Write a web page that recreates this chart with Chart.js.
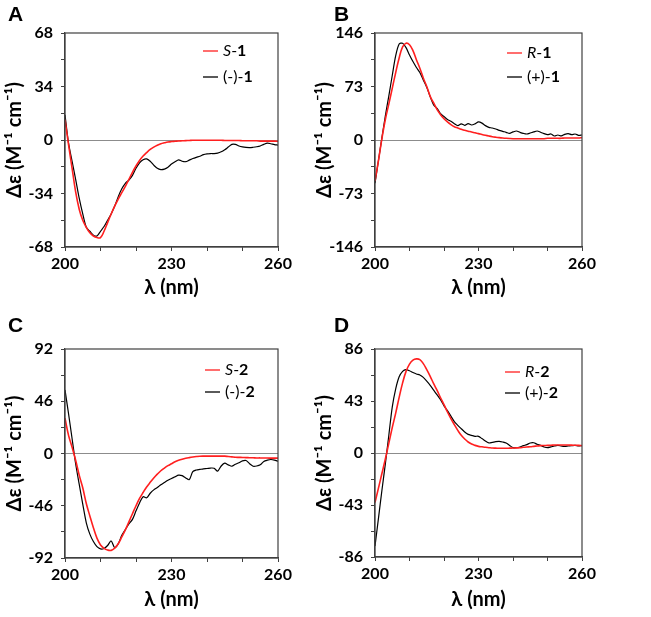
<!DOCTYPE html>
<html>
<head>
<meta charset="utf-8">
<script src="https://cdn.jsdelivr.net/npm/chart.js@4"></script>
<style>
  body { margin: 0; background: #fff; width: 651px; height: 617px; position: relative; overflow: hidden; }
  .panel { position: absolute; width: 330px; height: 308px; }
  .tag { position: absolute; font: bold 21px "Liberation Sans", Arial, sans-serif; line-height: 1; color: #000; }
</style>
</head>
<body>
<div class="panel" style="left:0;top:0"><canvas id="chart-a" width="330" height="308"></canvas></div>
<div class="panel" style="left:310px;top:0"><canvas id="chart-b" width="330" height="308"></canvas></div>
<div class="panel" style="left:0;top:312px"><canvas id="chart-c" width="330" height="308"></canvas></div>
<div class="panel" style="left:310px;top:312px"><canvas id="chart-d" width="330" height="308"></canvas></div>
<div class="tag" style="left:8px;top:3px">A</div>
<div class="tag" style="left:334px;top:3px">B</div>
<div class="tag" style="left:8px;top:314px">C</div>
<div class="tag" style="left:334px;top:314px">D</div>
<script>
// wavelength, nm
const wavelengths = [200, 201, 202, 203, 204, 205, 206, 207, 208, 209,
  210, 211, 212, 213, 214, 215, 216, 217, 218, 219,
  220, 221, 222, 223, 224, 225, 226, 227, 228, 229,
  230, 231, 232, 233, 234, 235, 236, 237, 238, 239,
  240, 241, 242, 243, 244, 245, 246, 247, 248, 249,
  250, 251, 252, 253, 254, 255, 256, 257, 258, 259, 260];
const xTickLabels = [200, 230, 260];

// panel A
const calcS1 = [13, -3, -18, -33, -44, -51, -55.5, -59, -61, -62,
  -62, -58, -52.5, -47, -42, -37.5, -33.5, -29.5, -25, -20.5,
  -16.5, -13, -10.2, -8, -6, -4.5, -3.3, -2.4, -1.8, -1.3,
  -1, -0.8, -0.6, -0.5, -0.4, -0.3, -0.2, -0.2, -0.2, -0.2,
  -0.2, -0.2, -0.2, -0.2, -0.2, -0.3, -0.3, -0.3, -0.3, -0.3,
  -0.5, -0.5, -0.5, -0.5, -0.5, -0.7, -0.7, -0.7, -0.7, -0.7, -0.9];
const expMinus1 = [16, -2, -13.5, -25, -37, -47, -55.5, -58, -60.5, -61,
  -58, -55, -51, -47, -42, -36, -31, -27.5, -25.5, -22.5,
  -18, -14.5, -12.5, -12, -13.5, -16, -18, -18.8, -18.5, -17.3,
  -15.3, -13.8, -12.6, -13.5, -13.8, -12.8, -11.8, -11, -10.3, -9.3,
  -8.8, -8.6, -8.6, -8.3, -7.5, -6.2, -4.5, -2.8, -2.8, -3.8,
  -4.4, -4.7, -4.8, -4.6, -4.3, -3.8, -2.8, -2, -2.4, -2.9, -3.2];
const yTicksA = [-68, -34, 0, 34, 68];

// panel B
const calcR1 = [-56, -28, 2, 28, 49, 70.5, 92, 112, 127, 132,
  130, 122, 109.6, 98, 84.6, 73, 59.6, 50.5, 41.4, 34.6,
  29, 24.6, 21, 18.2, 16.4, 14.6, 13.2, 12, 11, 9.8,
  8.7, 7.5, 6.4, 5.4, 4.5, 3.8, 3.2, 2.7, 2.3, 2,
  1.8, 1.8, 1.8, 1.8, 1.8, 1.8, 1.8, 1.8, 1.8, 1.8,
  2.3, 2.3, 2.3, 2.3, 2.3, 2.7, 2.7, 2.7, 2.7, 2.7, 3.2];
const expPlus1 = [-59, -28, 3, 33, 60, 88, 115, 131, 132, 126,
  116, 107, 99, 92, 82, 72, 59, 48, 43, 36,
  32, 28, 25.5, 22.3, 19.6, 22, 20, 22.3, 20.5, 22,
  24.6, 23, 19.6, 17.3, 16.4, 15, 13.2, 11.8, 10.5, 9,
  11, 12.3, 10.5, 9, 8.2, 9.5, 11, 12.3, 10.5, 8.7,
  7.3, 8.2, 5.5, 6.8, 5.5, 7.7, 8.7, 7.3, 8.2, 6.4, 6.8];
const yTicksB = [-146, -73, 0, 73, 146];

// panel C
const calcS2 = [31, 16, 5.5, -6, -19, -30.2, -44, -55, -65.4, -74.5,
  -80.5, -83.5, -85, -85.3, -83.3, -79.5, -73.5, -67.3, -60.2, -53,
  -46, -39.6, -34.3, -29.5, -25.4, -21.6, -18.2, -15.2, -12.8, -10.7,
  -9, -7.3, -6, -5, -4.2, -3.6, -3.1, -2.7, -2.4, -2.3,
  -2.3, -2.3, -2.3, -2.3, -2.3, -2.3, -2.7, -3, -3.3, -3.4,
  -3.5, -3.6, -3.7, -3.8, -3.9, -3.9, -4, -4, -4.1, -4.1, -4.1];
const expMinus2 = [56, 35, 13, -9, -27, -44.5, -61, -71, -77.5, -82,
  -84, -83.6, -81, -77, -83, -79.5, -72, -67, -62, -58,
  -50.5, -43.5, -38, -39, -35, -32, -30, -27.5, -25.5, -23.5,
  -22, -20.5, -19, -19.5, -21.5, -23, -16, -14.5, -14, -13.5,
  -13.2, -12.8, -13, -15.5, -11, -8.5, -10, -11.2, -9.5, -8.2,
  -6.5, -6.2, -9, -11.2, -11, -10, -7, -5.9, -5.3, -5.8, -6.8];
const yTicksC = [-92, -46, 0, 46, 92];

// panel D
const calcR2 = [-41, -29, -17, -5, 8, 21, 33, 46, 58, 67.5,
  73.5, 76.8, 77.8, 77.2, 73.9, 68.9, 63.4, 57.3, 51.8, 45.7,
  40, 33.9, 28.4, 23.4, 18.7, 14.6, 11.6, 9.1, 7.4, 6.3,
  5.5, 5.1, 4.7, 4.4, 4.1, 4, 3.9, 3.9, 3.9, 4,
  4.1, 4.2, 4.4, 4.7, 5, 5.2, 5.5, 5.8, 6.1, 6.2,
  6.3, 6.4, 6.6, 6.6, 6.6, 6.6, 6.6, 6.5, 6.4, 6.3, 6.1];
const expPlus2 = [-77, -54, -31, -9, 14.5, 38, 53, 63, 67.5, 69,
  68, 66.5, 65.3, 64.5, 62.5, 59.5, 56, 52, 48, 44,
  39, 35, 30.5, 26, 22.9, 20.1, 17.4, 15.4, 14.6, 13.8,
  13.8, 11.9, 9.9, 8.3, 8.8, 9.4, 9.6, 9.1, 8.3, 6.3,
  4.4, 4.4, 5, 6.1, 6.9, 8.3, 8.5, 7.2, 6.3, 5,
  4.4, 5, 5.8, 6.3, 5.8, 5.5, 5.8, 6.1, 6.3, 5.8, 6.1];
const yTicksD = [-86, -43, 0, 43, 86];

const FONT = "Lato, 'Liberation Sans', sans-serif";
const CANVAS_W = 330;
const CANVAS_H = 308;

function isLabelTick(v, list) {
  return list.some((t) => Math.abs(t - v) < 1e-6);
}

function drawRichLabel(ctx, label, x, y) {
  // "S-1" -> italic S, plain "-", bold 1
  const k = label.lastIndexOf("-");
  const head = label.slice(0, k);
  const tail = label.slice(k + 1);
  const parts = [
    [head, /^[A-Z]$/.test(head) ? "italic 16px " : "16px "],
    ["-", "16px "],
    [tail, "bold 16px "],
  ];
  ctx.fillStyle = "#000";
  ctx.textBaseline = "middle";
  ctx.textAlign = "left";
  parts.forEach(([txt, f]) => {
    ctx.font = f + FONT;
    ctx.fillText(txt, x, y);
    x += ctx.measureText(txt).width;
  });
}

const frameLegend = {
  id: "frameLegend",
  afterDatasetsDraw(chart, args, opts) {
    const { ctx, chartArea: a } = chart;
    ctx.save();
    ctx.strokeStyle = "#404040";
    ctx.lineWidth = 1.2;
    ctx.strokeRect(a.left, a.top, a.right - a.left, a.bottom - a.top);
    chart.data.datasets.forEach((ds, i) => {
      const x = a.right - opts.right;
      const y = a.top + opts.top + i * opts.gap;
      ctx.strokeStyle = ds.borderColor;
      ctx.lineWidth = 1.3;
      ctx.beginPath();
      ctx.moveTo(x, y);
      ctx.lineTo(x + 15, y);
      ctx.stroke();
      drawRichLabel(ctx, ds.label, x + 20, y);
    });
    ctx.restore();
  },
};

function makePanel(id, cfg) {
  const toPoints = (vals) => wavelengths.map((w, i) => ({ x: w, y: vals[i] }));
  const lim = cfg.yTicks[cfg.yTicks.length - 1];
  new Chart(document.getElementById(id), {
    type: "line",
    data: {
      datasets: [
        {
          label: cfg.calcLabel,
          data: toPoints(cfg.calc),
          borderColor: "#ff1f1f",
          borderWidth: 1.6,
          pointRadius: 0,
          tension: 0.4,
        },
        {
          label: cfg.expLabel,
          data: toPoints(cfg.exp),
          borderColor: "#000000",
          borderWidth: 1.2,
          pointRadius: 0,
          tension: 0.3,
        },
      ],
    },
    options: {
      responsive: false,
      animation: false,
      layout: {
        padding: { left: 0, top: cfg.area.top, right: CANVAS_W - cfg.area.right, bottom: 0 },
      },
      plugins: {
        legend: { display: false },
        tooltip: { enabled: false },
        frameLegend: cfg.legend,
      },
      scales: {
        x: {
          type: "linear",
          min: 200,
          max: 260,
          afterFit(s) { s.height = CANVAS_H - cfg.area.bottom; },
          border: { display: true, color: "#404040", width: 1.2 },
          grid: { drawOnChartArea: false, tickColor: "#404040", tickLength: 4 },
          ticks: {
            stepSize: 10,
            autoSkip: false,
            maxRotation: 0,
            padding: 3,
            color: "#000",
            font: { family: FONT, size: 16, weight: "bold" },
            callback: (v) => (isLabelTick(v, xTickLabels) ? v : ""),
          },
          title: {
            display: true,
            text: "λ (nm)",
            color: "#000",
            font: { family: FONT, size: 20, weight: "bold", lineHeight: 1 },
            padding: { top: 0, bottom: 10 },
          },
        },
        y: {
          min: -lim,
          max: lim,
          afterFit(s) { s.width = cfg.area.left; },
          border: { display: true, color: "#404040", width: 1.2 },
          grid: {
            color: (c) => (c.tick && c.tick.value === 0 ? "#8c8c8c" : "rgba(0,0,0,0)"),
            tickColor: "#404040",
            tickLength: 4,
          },
          ticks: {
            stepSize: lim / 4,
            autoSkip: false,
            padding: 8,
            color: "#000",
            font: { family: FONT, size: 16, weight: "bold" },
            callback: (v) => (isLabelTick(v, cfg.yTicks) ? v : ""),
          },
          title: {
            display: true,
            text: "Δε (M⁻¹ cm⁻¹)",
            color: "#000",
            font: { family: FONT, size: 20, weight: "bold", lineHeight: 1 },
            padding: { top: 5, bottom: 0 },
          },
        },
      },
    },
    plugins: [frameLegend],
  });
}

makePanel("chart-a", {
  calc: calcS1, exp: expMinus1, calcLabel: "S-1", expLabel: "(-)-1", yTicks: yTicksA,
  area: { left: 65, top: 33, right: 278, bottom: 247 },
  legend: { right: 75, top: 18, gap: 26 },
});
makePanel("chart-b", {
  calc: calcR1, exp: expPlus1, calcLabel: "R-1", expLabel: "(+)-1", yTicks: yTicksB,
  area: { left: 65, top: 33, right: 272, bottom: 247 },
  legend: { right: 75, top: 20, gap: 24 },
});
makePanel("chart-c", {
  calc: calcS2, exp: expMinus2, calcLabel: "S-2", expLabel: "(-)-2", yTicks: yTicksC,
  area: { left: 65, top: 37, right: 278, bottom: 246 },
  legend: { right: 73, top: 21, gap: 22 },
});
makePanel("chart-d", {
  calc: calcR2, exp: expPlus2, calcLabel: "R-2", expLabel: "(+)-2", yTicks: yTicksD,
  area: { left: 65, top: 37, right: 272, bottom: 245 },
  legend: { right: 77, top: 23, gap: 21 },
});
</script>
</body>
</html>
